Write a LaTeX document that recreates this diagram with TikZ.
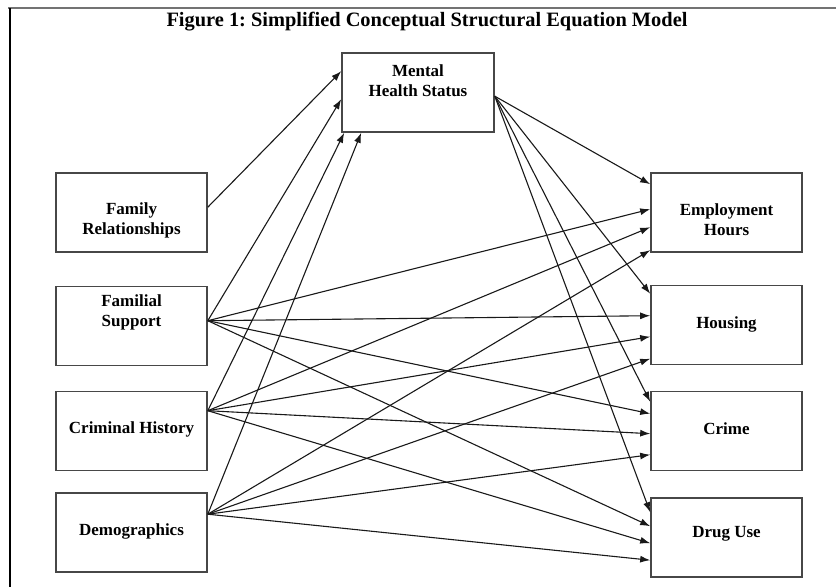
\documentclass[tikz,border=0pt]{standalone}
\usepackage{fontspec}
\setmainfont{Liberation Serif}
\usetikzlibrary{arrows.meta}
\begin{document}
\frenchspacing
\begin{tikzpicture}[x=1pt,y=-1pt,
  box/.style={draw=black!72, line width=1.6pt, minimum width=151pt, minimum height=79pt, inner sep=0pt, fill=white},
  lbl/.style={font=\fontsize{17}{20}\selectfont\bfseries, align=center, text=black, inner sep=0pt},
  arr/.style={-{Latex[length=10pt,width=7pt]}, line width=1.1pt, black!90}]
\useasboundingbox (0,0) rectangle (836,587);
% frame lines (screenshot edges)
\draw[black!55, line width=2pt] (8,8) -- (836,8);
\draw[black, line width=2.5pt] (10,8) -- (10,587);
% title
\node[font=\fontsize{20.4}{24}\selectfont\bfseries, inner sep=0pt] (title) at (427,22) {Figure 1: Simplified Conceptual Structural Equation Model};
% boxes
\node[box, minimum width=152pt] (mhs) at (418,92.5) {};
\node[box] (fr) at (131.5,212.5) {};
\node[box] (fs) at (131.5,326) {};
\node[box] (ch) at (131.5,431) {};
\node[box] (demo) at (131.5,532.5) {};
\node[box] (emp) at (726.5,212.5) {};
\node[box] (hous) at (726.5,325) {};
\node[box] (crime) at (726.5,431) {};
\node[box] (drug) at (726.5,537.5) {};
% labels
\node[lbl] (tmhs) at (418,81) {Mental\\Health Status};
\node[lbl] (tfr) at (131.5,220) {Family\\Relationships};
\node[lbl] (tfs) at (131.5,312) {Familial\\Support};
\node[lbl] (tch) at (131.5,429) {Criminal History};
\node[lbl] (tdemo) at (131.5,531) {Demographics};
\node[lbl] (temp) at (726.5,220) {Employment\\Hours};
\node[lbl] (thous) at (726.5,324) {Housing};
\node[lbl] (tcrime) at (726.5,429) {Crime};
\node[lbl] (tdrug) at (726.5,534) {Drug Use};
% Mental health status outgoing
\draw[arr] ([yshift=-44pt]mhs.north east) -- ([yshift=-12pt]emp.north west);
\draw[arr] ([yshift=-44pt]mhs.north east) -- ([yshift=-9pt]hous.north west);
\draw[arr] ([yshift=-44pt]mhs.north east) -- ([yshift=-11pt]crime.north west);
\draw[arr] ([yshift=-44pt]mhs.north east) -- ([yshift=-15pt]drug.north west);
% Family relationships
\draw[arr] ([yshift=-35pt]fr.north east) -- ([yshift=-19pt]mhs.north west);
% Familial support
\draw[arr] ([yshift=-35pt]fs.north east) -- ([yshift=-47pt]mhs.north west);
\draw[arr] ([yshift=-35pt]fs.north east) -- ([yshift=-37pt]emp.north west);
\draw[arr] ([yshift=-35pt]fs.north east) -- ([yshift=-31pt]hous.north west);
\draw[arr] ([yshift=-35pt]fs.north east) -- ([yshift=-23pt]crime.north west);
\draw[arr] ([yshift=-35pt]fs.north east) -- ([yshift=-29pt]drug.north west);
% Criminal history
\draw[arr] ([yshift=-20pt]ch.north east) -- ([xshift=3pt]mhs.south west);
\draw[arr] ([yshift=-20pt]ch.north east) -- ([yshift=-55pt]emp.north west);
\draw[arr] ([yshift=-20pt]ch.north east) -- ([yshift=-52pt]hous.north west);
\draw[arr] ([yshift=-20pt]ch.north east) -- ([yshift=-43pt]crime.north west);
\draw[arr] ([yshift=-20pt]ch.north east) -- ([yshift=-46pt]drug.north west);
% Demographics
\draw[arr] ([yshift=-22pt]demo.north east) -- ([xshift=20pt]mhs.south west);
\draw[arr] ([yshift=-22pt]demo.north east) -- ([yshift=-78pt]emp.north west);
\draw[arr] ([yshift=-22pt]demo.north east) -- ([yshift=-74pt]hous.north west);
\draw[arr] ([yshift=-22pt]demo.north east) -- ([yshift=-64pt]crime.north west);
\draw[arr] ([yshift=-22pt]demo.north east) -- ([yshift=-63pt]drug.north west);
\end{tikzpicture}
\end{document}
